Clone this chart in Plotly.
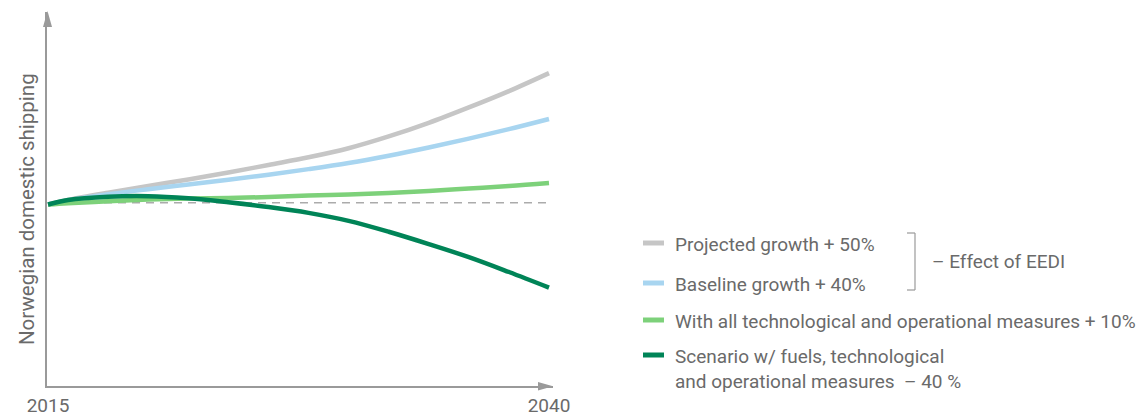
import plotly.graph_objects as go

W, H = 1148, 417

years = [2015, 2016, 2018, 2020, 2022, 2024, 2026, 2028, 2030, 2032, 2034, 2036, 2038, 2040]
projected = [100, 102.5, 106.5, 110.2, 113.8, 117.6, 121.8, 126.0, 131.0, 137.5, 145.0, 153.5, 162.5, 172.4]
baseline = [100, 102.2, 105.6, 108.4, 111.0, 113.6, 116.4, 119.5, 122.9, 126.9, 131.4, 136.3, 141.5, 147.1]
all_measures = [100, 100.7, 101.8, 102.7, 103.3, 103.6, 104.1, 105.0, 105.5, 106.3, 107.4, 108.8, 110.2, 111.9]
fuels = [100, 102.5, 104.3, 104.6, 103.4, 101.2, 98.6, 95.4, 91.0, 85.0, 78.2, 71.0, 62.8, 54.2]
reference_level = 101

series_names = [
    "Projected growth + 50%",
    "Baseline growth + 40%",
    "With all technological and operational measures + 10%",
    "Scenario w/ fuels, technological<br>and operational measures  – 40 %",
]
colors = ["#c6c6c6", "#a8d5f0", "#7dd17a", "#008457"]
tick_years = [2015, 2040]
y_title = "Norwegian domestic shipping"
bracket_label = "– Effect of EEDI"

AX = "#9a9a9a"
TXT = "#6a6a6a"
FONT = "Roboto"
FS = 19

# pixel geometry
x0_px, x1_px = 47, 553
yb_px, yt_px = 386, 12
px_per_year = 20.04
px_per_unit = 1.815

def px_to_paper(px, py):
    return px / W, (H - py) / H

fig = go.Figure()

# dashed reference
fig.add_trace(go.Scatter(x=[2015, 2040], y=[reference_level, reference_level], mode="lines",
                         line=dict(color="#ababab", width=1.5, dash="8px,6px"),
                         hoverinfo="skip", showlegend=False))

for vals, c in zip([projected, baseline, all_measures, fuels], colors):
    fig.add_trace(go.Scatter(x=years, y=vals, mode="lines",
                             line=dict(color=c, width=4.5, shape="spline", smoothing=1.0),
                             showlegend=False, hoverinfo="skip"))

xr = [2015 - (48 - x0_px) / px_per_year, 2040 + (x1_px - 549) / px_per_year]
yr = [0, (yb_px - yt_px) / px_per_unit]

fig.update_layout(
    width=W, height=H,
    margin=dict(l=0, r=0, t=0, b=0, autoexpand=False),
    paper_bgcolor="white", plot_bgcolor="white",
    showlegend=False,
    font=dict(family=FONT, color=TXT, size=FS),
    xaxis=dict(domain=[x0_px / W, x1_px / W], range=xr, showgrid=False, zeroline=False,
               automargin=False,
               showline=True, linecolor=AX, linewidth=1.5, tickvals=tick_years,
               ticks="", ticklabelstandoff=1, tickfont=dict(size=FS, color=TXT)),
    yaxis=dict(domain=[(H - yb_px) / H, (H - yt_px) / H], range=yr, showgrid=False,
               automargin=False,
               zeroline=False, showline=True, linecolor=AX, linewidth=1.5,
               showticklabels=False, ticks=""),
)

shapes = []
# arrowheads
def tri(pts):
    p = [px_to_paper(*q) for q in pts]
    path = "M {} {} L {} {} L {} {} Z".format(p[0][0], p[0][1], p[1][0], p[1][1], p[2][0], p[2][1])
    return dict(type="path", xref="paper", yref="paper", path=path, fillcolor=AX, line=dict(width=0))

shapes.append(tri([(47.5, 11), (43, 27), (52, 27)]))
shapes.append(tri([(553, 386.2), (538, 382), (538, 390.5)]))

# legend samples
leg_y = [243, 283, 320, 355]
for yy, c in zip(leg_y, colors):
    xa, ya = px_to_paper(643, yy)
    xb, _ = px_to_paper(664, yy)
    shapes.append(dict(type="line", xref="paper", yref="paper", x0=xa, x1=xb, y0=ya, y1=ya,
                       line=dict(color=c, width=5)))

# bracket
bx = 915
for (a, b) in [((907, 233), (bx, 233)), ((bx, 233), (bx, 290)), ((bx, 290), (907, 290))]:
    pa = px_to_paper(*a); pb = px_to_paper(*b)
    shapes.append(dict(type="line", xref="paper", yref="paper", x0=pa[0], y0=pa[1], x1=pb[0], y1=pb[1],
                       line=dict(color="#9a9a9a", width=1.2)))
fig.update_layout(shapes=shapes)

ann = []
text_y = [244, 284, 321, 369]
for t, yy in zip(series_names, text_y):
    xp, yp = px_to_paper(673, yy)
    ann.append(dict(text=t, x=xp, y=yp, xref="paper", yref="paper", xanchor="left", yanchor="middle",
                    showarrow=False, align="left", font=dict(size=FS, color=TXT, family=FONT)))
xp, yp = px_to_paper(930, 261)
ann.append(dict(text=bracket_label, x=xp, y=yp, xref="paper", yref="paper", xanchor="left", yanchor="middle",
                showarrow=False, font=dict(size=FS, color=TXT, family=FONT)))
xp, yp = px_to_paper(27, 209)
ann.append(dict(text=y_title, x=xp, y=yp, xref="paper", yref="paper", xanchor="center", yanchor="middle",
                textangle=-90, showarrow=False, font=dict(size=20.5, color=TXT, family=FONT)))
fig.update_layout(annotations=ann)

fig.write_html("out.html")
